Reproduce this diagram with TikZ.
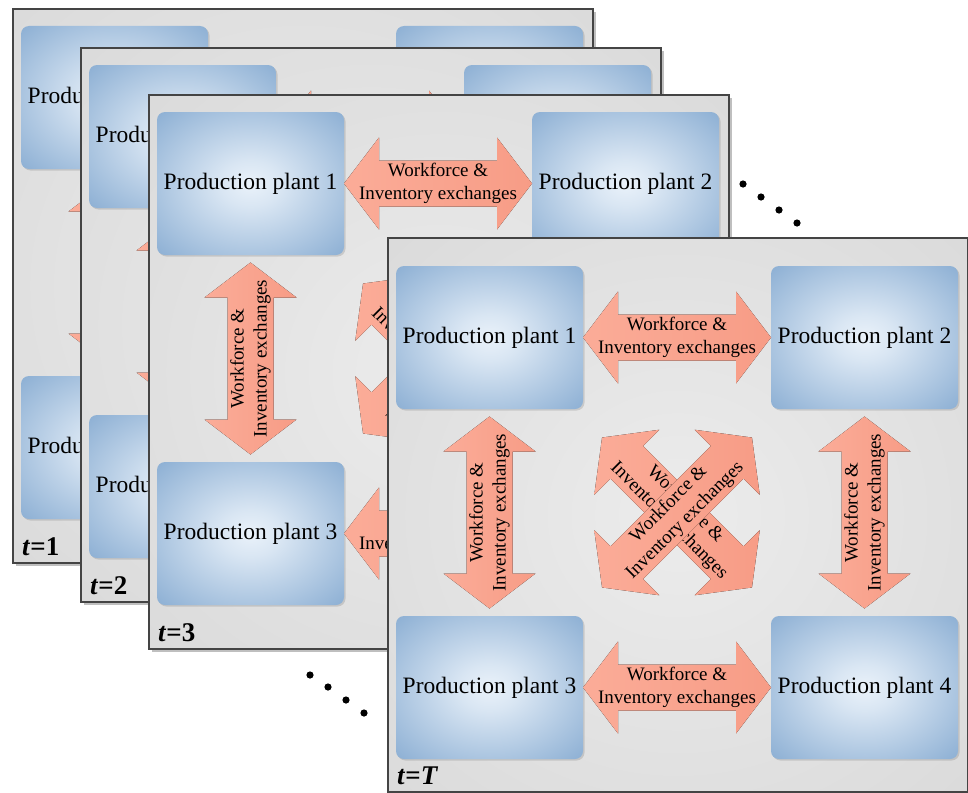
\documentclass[tikz,border=0pt]{standalone}
\usepackage{fontspec}
\setmainfont{Liberation Serif}

\definecolor{frameline}{RGB}{68,68,68}
\definecolor{paneinner}{RGB}{236,236,236}
\definecolor{paneouter}{RGB}{214,214,214}
\definecolor{plantcore}{RGB}{234,242,250}
\definecolor{plantrim}{RGB}{122,162,204}
\definecolor{flowlight}{RGB}{251,172,152}
\definecolor{flowdark}{RGB}{247,156,134}

% soft centre-lit fills for plants and stage panes
\pgfdeclareradialshading{plantglow}{\pgfpoint{0bp}{0bp}}{%
  color(0bp)=(plantcore); color(8bp)=(plantcore!85!plantrim);
  color(24bp)=(plantcore!45!plantrim); color(42bp)=(plantrim); color(50bp)=(plantrim)}
\pgfdeclareradialshading{paneglow}{\pgfpoint{0bp}{0bp}}{%
  color(0bp)=(paneinner); color(45bp)=(paneouter); color(50bp)=(paneouter)}

\newcommand\flowlabel{Workforce \&\\Inventory exchanges}

\tikzset{
  pane/.style={draw=frameline, line width=1.6pt, shade, shading=paneglow,
    minimum width=580pt, minimum height=554pt, inner sep=0pt, anchor=north west,
    preaction={fill=black, opacity=.25, transform canvas={shift={(3pt,-3pt)}}}},
  plant/.style={rounded corners=8pt, shade, shading=plantglow,
    minimum width=187pt, minimum height=143pt, inner sep=0pt,
    font=\fontsize{23.5}{28}\selectfont,
    preaction={fill=black, opacity=.12, transform canvas={shift={(1.5pt,-1.5pt)}}}},
  flowtext/.style={align=center, inner sep=0pt, font=\fontsize{19}{23}\selectfont},
  stamp/.style={anchor=base west, inner sep=0pt, font=\fontsize{27}{27}\selectfont\bfseries},
  pics/flowarrow/.style={code={
    \fill[left color=flowlight, right color=flowdark]
      (-#1,0) -- (-#1+35,-46) -- (-#1+35,-23) -- (#1-35,-23) -- (#1-35,-46)
      -- (#1,0) -- (#1-35,46) -- (#1-35,23) -- (-#1+35,23) -- (-#1+35,46) -- cycle;}},
}

% one time stage: #1 name, #2/#3 top-left corner, #4 top margin of the plants, #5 stamp
\newcommand\stage[5]{%
  \begin{scope}[shift={(#2,#3)}]
    \node[pane] (#1) at (0,0) {};
    \begin{scope}[shift={(0,#4)}]
      \node[plant] (#1a) at (102.5,71.5)  {Production plant 1};
      \node[plant] (#1b) at (477.5,71.5)  {Production plant 2};
      \node[plant] (#1c) at (102.5,421.5) {Production plant 3};
      \node[plant] (#1d) at (477.5,421.5) {Production plant 4};
    \end{scope}
    \path (#1a.east) -- (#1b.west) coordinate[midway] (#1ab)
          (#1c.east) -- (#1d.west) coordinate[midway] (#1cd)
          (#1a.south) -- (#1c.north) coordinate[midway] (#1ac)
          (#1b.south) -- (#1d.north) coordinate[midway] (#1bd)
          (#1a.south east) -- (#1d.north west) coordinate[midway] (#1x);
    \pic at (#1ab) {flowarrow=94};
    \node[flowtext] (#1abl) at (#1ab) {\flowlabel};
    \pic at (#1cd) {flowarrow=94};
    \node[flowtext] (#1cdl) at (#1cd) {\flowlabel};
    \pic[rotate=90] at (#1ac) {flowarrow=96};
    \node[flowtext, rotate=90] (#1acl) at (#1ac) {\flowlabel};
    \pic[rotate=90] at (#1bd) {flowarrow=96};
    \node[flowtext, rotate=90] (#1bdl) at (#1bd) {\flowlabel};
    \pic[rotate=-45] at (#1x) {flowarrow=106};
    \node[flowtext, rotate=-45] (#1adl) at (#1x) {\flowlabel};
    \pic[rotate=45] at (#1x) {flowarrow=106};
    \node[flowtext, rotate=45] (#1cbl) at (#1x) {\flowlabel};
    \node[stamp] (#1t) at (10,547) {#5};
  \end{scope}}

\begin{document}
\begin{tikzpicture}[x=1pt, y=-1pt]
  \useasboundingbox (0,0) rectangle (968,792);
  \fill[white] (0,0) rectangle (968,792);

  \stage{s1}{12}{8}{18}{\textit{t}=1}
  \stage{s2}{80}{47}{18}{\textit{t}=2}
  \stage{s3}{148}{94}{18}{\textit{t}=3}

  % ellipses between the stages
  \foreach \p in {(743,184),(761,197),(779,210),(797,223),
                  (310,675),(328,687),(346,700),(364,713)}
    \fill[black] \p circle (3.6);

  \stage{sT}{387}{237}{29}{\textit{t}=\textit{T}}
\end{tikzpicture}
\end{document}
